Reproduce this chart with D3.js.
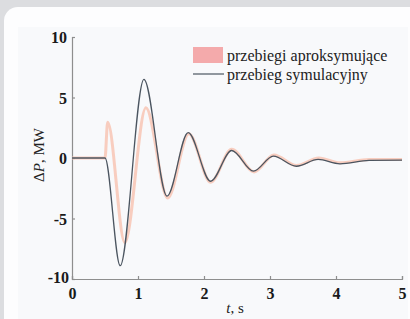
<!DOCTYPE html>
<meta charset="utf-8">
<title>przebiegi</title>
<script src="https://d3js.org/d3.v7.min.js"></script>
<style>
  body { margin: 0; background: #dcdde0; }
  svg { display: block; }
</style>
<body>
</body>
<script>
  const width = 410, height = 319;

  // simulated response (black) - extrema
  const tSim = [0, 0.5, 0.73, 1.09, 1.44, 1.76, 2.1, 2.42, 2.75, 3.05, 3.4, 3.73, 4.06, 4.5, 5.0];
  const pSim = [0, 0, -8.9, 6.5, -3.15, 2.1, -1.92, 0.62, -1.09, 0.15, -0.68, -0.12, -0.48, -0.2, -0.18];

  // approximating responses (pink band)
  const tApx = [0, 0.5, 0.54, 0.8, 1.12, 1.45, 1.77, 2.1, 2.42, 2.76, 3.06, 3.4, 3.74, 4.06, 4.5, 5.0];
  const pApx = [0, 0, 2.95, -7.0, 4.15, -3.3, 2.0, -2.0, 0.72, -1.15, 0.25, -0.62, 0.0, -0.4, -0.12, -0.12];

  const xTicks = [0, 1, 2, 3, 4, 5];
  const yTicks = [-10, -5, 0, 5, 10];
  const legendLabels = ["przebiegi aproksymujące", "przebieg symulacyjny"];

  const svg = d3.select("body").append("svg").attr("width", width).attr("height", height);

  // card + plot panel
  svg.append("rect").attr("x", 4).attr("y", 7).attr("width", 430).attr("height", 340)
    .attr("rx", 14).attr("fill", "#fdfdfe");
  svg.append("rect").attr("x", 18).attr("y", 27).attr("width", 390).attr("height", 292)
    .attr("fill", "#f8f9fb");

  const x = d3.scaleLinear().domain([0, 5]).range([72, 402]);
  const y = d3.scaleLinear().domain([-10, 10]).range([279, 37]);

  const font = "'Liberation Serif', 'Times New Roman', serif";

  // axes
  const xAxis = svg.append("g").attr("transform", `translate(0,${y(-10)})`)
    .call(d3.axisBottom(x).tickValues(xTicks).tickSize(-3).tickPadding(6).tickFormat(d => String(d)));
  const yAxis = svg.append("g").attr("transform", `translate(${x(0)},0)`)
    .call(d3.axisLeft(y).tickValues(yTicks).tickSize(-3).tickPadding(5).tickFormat(d => String(d)));

  [xAxis, yAxis].forEach(a => {
    a.select(".domain").attr("stroke", "#8e8e8e").attr("stroke-width", 1.2);
    a.selectAll(".tick line").attr("stroke", "#8e8e8e").attr("stroke-width", 1.2);
    a.selectAll(".tick text").attr("fill", "#1a1a1a").style("font-family", font)
      .style("font-size", "16px").style("font-weight", "bold");
  });
  xAxis.selectAll(".tick text").attr("dy", "0.9em");
  yAxis.selectAll(".tick text").attr("dy", "0.35em");
  yAxis.selectAll(".tick").filter(d => d === -10).select("text").attr("x", -3).attr("dy", "0.2em");

  // curves
  const line = d3.line().x(d => x(d[0])).y(d => y(d[1])).curve(d3.curveMonotoneX);

  svg.append("path").datum(d3.zip(tApx, pApx))
    .attr("d", line).attr("fill", "none")
    .attr("stroke", "#f8c6b4").attr("stroke-width", 3).attr("stroke-opacity", 0.85)
    .attr("stroke-linejoin", "round");

  svg.append("path").datum(d3.zip(tSim, pSim))
    .attr("d", line).attr("fill", "none")
    .attr("stroke", "#4b5560").attr("stroke-width", 1.3)
    .attr("stroke-linejoin", "round");

  // axis titles
  const yt = svg.append("text").attr("transform", "translate(44,155) rotate(-90)")
    .attr("text-anchor", "middle").attr("fill", "#222")
    .style("font-family", font).style("font-size", "15px");
  yt.append("tspan").text("Δ");
  yt.append("tspan").style("font-style", "italic").text("P");
  yt.append("tspan").text(", MW");

  const xt = svg.append("text").attr("x", 235).attr("y", 313)
    .attr("text-anchor", "middle").attr("fill", "#222")
    .style("font-family", font).style("font-size", "15px");
  xt.append("tspan").style("font-style", "italic").text("t");
  xt.append("tspan").text(", s");

  // legend
  const lg = svg.append("g");
  lg.append("rect").attr("x", 193).attr("y", 47).attr("width", 30).attr("height", 16).attr("fill", "#f4aaab");
  lg.append("line").attr("x1", 193).attr("x2", 224).attr("y1", 74).attr("y2", 74)
    .attr("stroke", "#4b5560").attr("stroke-width", 1.2);
  lg.selectAll("text").data(legendLabels).join("text")
    .attr("x", 227).attr("y", (d, i) => 61 + i * 19)
    .attr("fill", "#222").style("font-family", font).style("font-size", "16px")
    .text(d => d);
</script>
